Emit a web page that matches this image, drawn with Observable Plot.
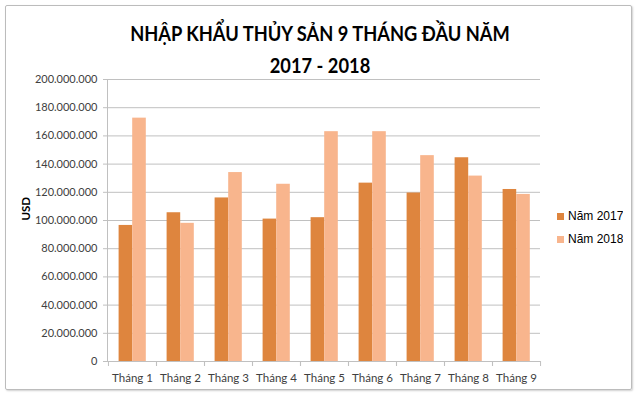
<!DOCTYPE html>
<html><head><meta charset="utf-8">
<script src="https://cdn.jsdelivr.net/npm/d3@7"></script>
<script src="https://cdn.jsdelivr.net/npm/@observablehq/plot@0.6"></script>
<style>
body{margin:0;background:#fff;width:640px;height:396px;overflow:hidden;position:relative;}
#frame{position:absolute;left:5px;top:5px;width:625px;height:383px;border:1px solid #bcbcbc;border-radius:2px;box-shadow:1px 1px 2px #d0d0d0;}
#title{position:absolute;left:0;top:17px;width:640px;text-align:center;font:bold 21px Lato, sans-serif;line-height:32px;color:#000;transform:scaleX(0.87);transform-origin:320px 0;}
#chart{position:absolute;left:0;top:70px;}
#legend{position:absolute;left:557px;top:209px;}
#legend .lg-swatches{font:12px "Liberation Sans", Arial, sans-serif;color:#000;}
#legend .lg-swatch{margin-bottom:8px;}
#legend .lg-swatch svg{margin-right:4px;}
</style></head><body>
<div id="frame"></div>
<div id="title">NHẬP KHẨU THỦY SẢN 9 THÁNG ĐẦU NĂM<br>2017 - 2018</div>
<div id="chart"></div>
<div id="legend"></div>
<script>
const months = ["Tháng 1","Tháng 2","Tháng 3","Tháng 4","Tháng 5","Tháng 6","Tháng 7","Tháng 8","Tháng 9"];
const series = ["Năm 2017","Năm 2018"];
const values2017 = [96.5e6,105.5e6,116e6,101e6,102e6,126.5e6,119.5e6,144.5e6,122e6];
const values2018 = [172.6e6,98e6,134e6,125.7e6,163e6,163e6,146e6,131.5e6,118.5e6];
const yTicks = d3.range(0, 200e6 + 1, 20e6);
const colors = ["#de853e","#f8b58d"];
const yLabel = "USD";

const d2017 = months.map((m,i)=>({month:m, series:series[0], value:values2017[i]}));
const d2018 = months.map((m,i)=>({month:m, series:series[1], value:values2018[i]}));

const W = 640, H = 326, mL = 107, mR = 100, mT = 9, mB = 35;
const step = (W - mL - mR) / months.length;
const fmt = d => d3.format(",")(d).replace(/,/g, ".");
const font = "Lato, sans-serif";

const chart = Plot.plot({
  width: W, height: H,
  marginLeft: mL, marginRight: mR, marginTop: mT, marginBottom: mB,
  style: {background: "transparent", color: "#404040"},
  x: {domain: months, padding: 0, axis: null},
  y: {domain: [0, 200e6], axis: null},
  color: {domain: series, range: colors},
  marks: [
    Plot.gridY(yTicks, {stroke: "#c0c0c0", strokeOpacity: 1}),
    Plot.frame({anchor: "left", stroke: "#c0c0c0"}),
    Plot.axisY(yTicks, {tickSize: 4, tickPadding: 6, tickFormat: fmt, stroke: "#c0c0c0", fill: "#404040", fontSize: 11, fontFamily: font, label: null}),
    Plot.axisX({tickSize: 5, tickFormat: () => "", dx: -step/2, stroke: "#c0c0c0", label: null}),
    Plot.axisX({tickSize: 5, tickFormat: () => "", dx: step/2, stroke: "#c0c0c0", label: null}),
    Plot.axisX({tickSize: 0, tickPadding: 12.5, fill: "#404040", fontSize: 11.5, fontFamily: font, label: null}),
    Plot.barY(d2017, {x: "month", y: "value", fill: "series", insetLeft: 10.6, insetRight: 23.8}),
    Plot.barY(d2018, {x: "month", y: "value", fill: "series", insetLeft: 24.2, insetRight: 10.2}),
    Plot.text([yLabel], {text: d => d, frameAnchor: "left", rotate: -90, dx: -81, fontWeight: "bold", fontSize: 11.5, fontFamily: font, fill: "#000"})
  ]
});
document.getElementById("chart").appendChild(chart);

const legend = Plot.legend({color: {domain: series, range: colors}, legend: "swatches", columns: 1, swatchSize: 7, className: "lg"});
document.getElementById("legend").appendChild(legend);
</script>
</body></html>
